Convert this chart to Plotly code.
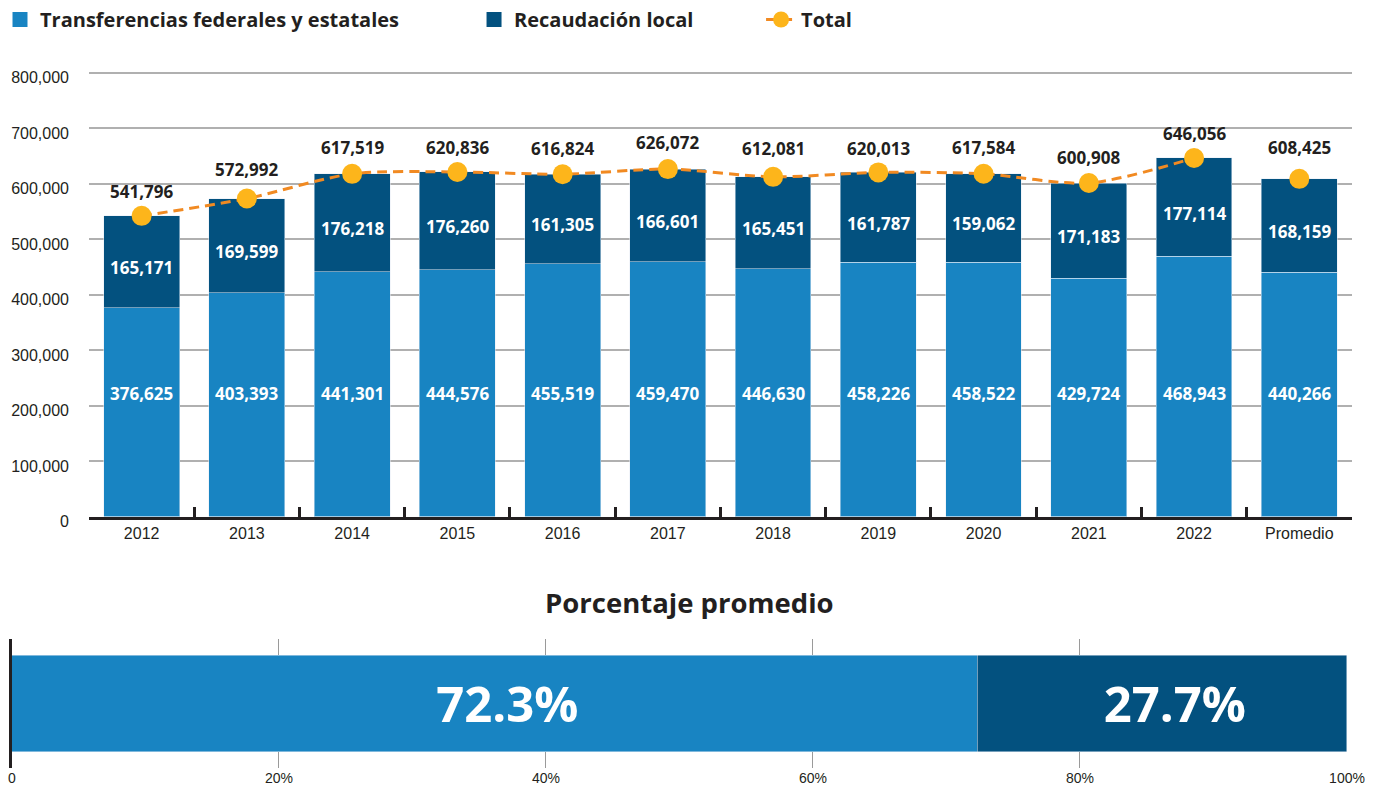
import plotly.graph_objects as go

years = ["2012", "2013", "2014", "2015", "2016", "2017", "2018", "2019", "2020", "2021", "2022", "Promedio"]
transferencias = [376625, 403393, 441301, 444576, 455519, 459470, 446630, 458226, 458522, 429724, 468943, 440266]
recaudacion = [165171, 169599, 176218, 176260, 161305, 166601, 165451, 161787, 159062, 171183, 177114, 168159]
totales = [541796, 572992, 617519, 620836, 616824, 626072, 612081, 620013, 617584, 600908, 646056, 608425]

porcentajes = [72.3, 27.7]
pct_ticks = [0, 20, 40, 60, 80, 100]
pct_labels = ["0", "20%", "40%", "60%", "80%", "100%"]

LIGHT = "#1884c2"
DARK = "#03517f"
ORANGE = "#f18a22"
GOLD = "#fdb51b"
INK = "#231f20"
BOLD = "Open Sans"
PLAIN = "Liberation Sans"

# pixel offsets of the total labels above each point
total_shift = [24, 29, 26, 24, 26, 27, 28, 24, 26, 26, 24, 31]
light_label_y = 222500

fig = go.Figure()

fig.add_trace(go.Bar(x=years, y=transferencias, marker_color=LIGHT, showlegend=False, hoverinfo="skip"))
fig.add_trace(go.Bar(x=years, y=recaudacion, marker_color=DARK, showlegend=False, hoverinfo="skip"))
fig.add_trace(go.Scatter(
    x=years[:-1], y=totales[:-1], name="<b>Total</b>", legend="legend3",
    mode="lines+markers",
    line=dict(color=ORANGE, width=3, dash="10px,6px", shape="spline", smoothing=0.8),
    marker=dict(color=GOLD, size=20), hoverinfo="skip"))
fig.add_trace(go.Scatter(
    x=years[-1:], y=totales[-1:], mode="markers", showlegend=False,
    marker=dict(color=GOLD, size=20), hoverinfo="skip"))

# legend-only square swatches for the two bar series
fig.add_trace(go.Scatter(x=[None], y=[None], mode="markers", legend="legend",
                         name="<b>Transferencias federales y estatales</b>",
                         marker=dict(symbol="square", size=15, color=LIGHT)))
fig.add_trace(go.Scatter(x=[None], y=[None], mode="markers", legend="legend2",
                         name="<b>Recaudación local</b>",
                         marker=dict(symbol="square", size=15, color=DARK)))

# bottom chart: average share
fig.add_trace(go.Bar(
    x=porcentajes[:1], y=[""], orientation="h", width=0.75, marker_color=LIGHT,
    xaxis="x2", yaxis="y2", showlegend=False, hoverinfo="skip",
    texttemplate="<b>&nbsp;&nbsp;%{x:.1f}%</b>", textposition="inside", insidetextanchor="middle",
    textfont=dict(family=BOLD, size=49, color="white")))
fig.add_trace(go.Bar(
    x=porcentajes[1:], y=[""], orientation="h", width=0.75, marker_color=DARK,
    xaxis="x2", yaxis="y2", showlegend=False, hoverinfo="skip",
    texttemplate="<b>&nbsp;&nbsp;%{x:.1f}%</b>", textposition="inside", insidetextanchor="middle",
    textfont=dict(family=BOLD, size=49, color="white")))

annotations = []
for i, tot in enumerate(totales):
    annotations.append(dict(x=i, y=tot, xref="x", yref="y", text="<b>{:,}</b>".format(tot),
                            showarrow=False, yshift=total_shift[i],
                            font=dict(family=BOLD, size=17, color=INK)))
for i, val in enumerate(transferencias):
    annotations.append(dict(x=i, y=light_label_y, xref="x", yref="y", text="<b>{:,}</b>".format(val),
                            showarrow=False, font=dict(family=BOLD, size=17, color="white")))
for i, val in enumerate(recaudacion):
    annotations.append(dict(x=i, y=transferencias[i] + val / 2, xref="x", yref="y",
                            text="<b>{:,}</b>".format(val), showarrow=False, yshift=-6,
                            font=dict(family=BOLD, size=17, color="white")))
annotations.append(dict(x=0.5, y=0.232, xref="paper", yref="paper", yanchor="middle",
                        text="<b>Porcentaje promedio</b>", showarrow=False,
                        font=dict(family=BOLD, size=27.5, color=INK)))

legend_style = dict(orientation="h", yanchor="top", y=1.0, xanchor="left",
                    font=dict(family=BOLD, size=20, color=INK), bgcolor="rgba(0,0,0,0)")

fig.update_layout(
    width=1378, height=785,
    margin=dict(l=0, r=0, t=0, b=0, autoexpand=False),
    paper_bgcolor="white", plot_bgcolor="white",
    barmode="stack", bargap=0.28,
    annotations=annotations,
    legend=dict(legend_style, x=0),
    legend2=dict(legend_style, x=0.344),
    legend3=dict(legend_style, x=0.5523),
    xaxis=dict(domain=[0.0646, 0.9811], type="category", range=[-0.5, 11.5], showgrid=False,
               showline=True, linecolor=INK, linewidth=3, automargin=False,
               ticks="inside", tickson="boundaries", ticklen=10, tickwidth=3, tickcolor=INK,
               tickfont=dict(family=PLAIN, size=16, color=INK)),
    yaxis=dict(domain=[0.342, 0.909], range=[0, 802000], tickformat=",", dtick=100000,
               showgrid=True, gridcolor="#b0b0b0", gridwidth=1.5, zeroline=False,
               ticklabelstandoff=19, ticklabelshift=5, automargin=False,
               tickfont=dict(family=PLAIN, size=16, color=INK)),
    xaxis2=dict(domain=[0.0087, 0.9775], anchor="y2", range=[0, 100],
                tickvals=pct_ticks, ticktext=pct_labels, showgrid=True,
                gridcolor="#9a9a9a", gridwidth=1, zeroline=False, automargin=False,
                tickfont=dict(family=PLAIN, size=14, color=INK)),
    yaxis2=dict(domain=[0.0217, 0.186], anchor="x2", range=[-0.5, 0.5],
                showline=True, linecolor=INK, linewidth=3, showticklabels=False,
                showgrid=False, automargin=False),
)

fig.write_html("out.html", config={"displayModeBar": False},
               post_script="document.body.style.margin='0px';document.body.style.overflow='hidden';")
